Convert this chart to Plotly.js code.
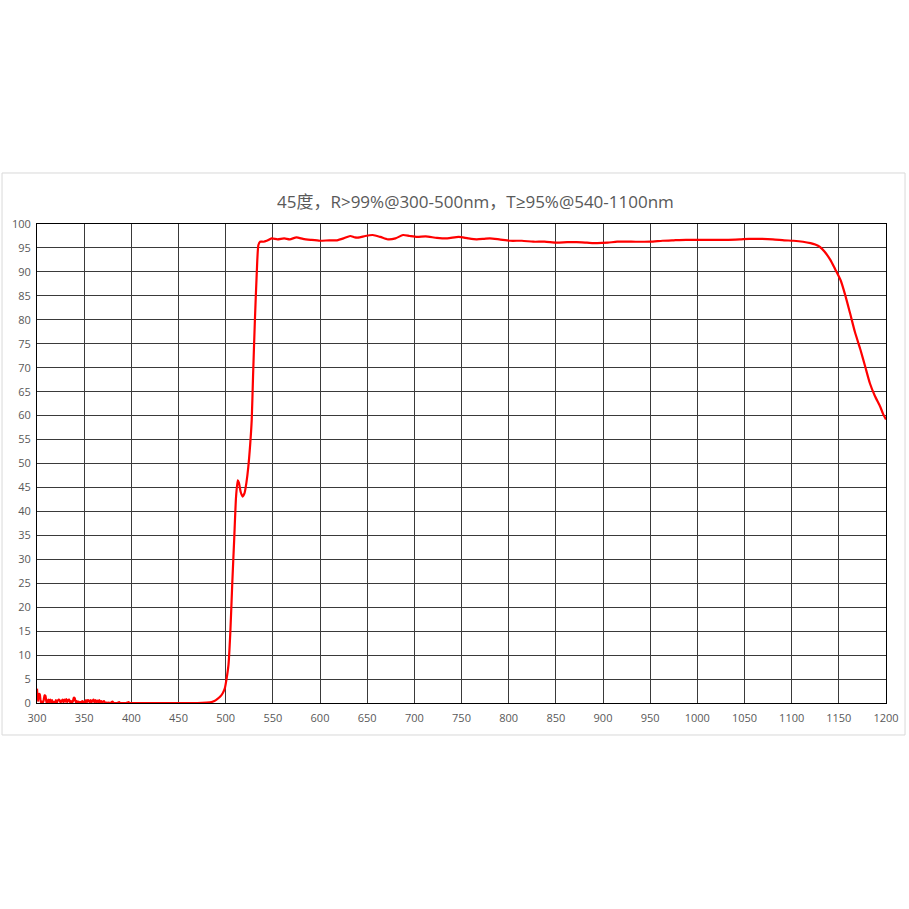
<!DOCTYPE html>
<html>
<head>
<meta charset="utf-8">
<script src="https://cdn.plot.ly/plotly-3.0.1.min.js"></script>
<style>
  html, body { margin: 0; padding: 0; background: #fff; }
  #chart { width: 909px; height: 909px; }
</style>
</head>
<body>
<div id="chart"></div>
<script>
// wavelength (nm) and transmission (%)
var noiseWl = [300,301,302,303,304,305,306,307,308,309,310,311,312,313,314,315,316,317,318,319,
               320,321,322,323,324,325,326,327,328,329,330,331,332,333,334,335,336,337,338,339,
               340,341,342,343,344,345,346,347,348,349,350,351,352,353,354,355,356,357,358,359,
               360,361,362,363,364,365,366,367,368,369,370,371,372,373,374,375,376,377,378,379,
               380,381,382,383,384,385,386,387,388,389,390,392,394,396,397,398,400];
var noiseT  = [3.0,0.4,1.9,1.8,0.2,0.3,0.1,0.5,1.6,1.5,0.2,0.1,0.7,0.2,0.7,0.1,0.6,0.1,0.2,0.1,
               0.6,0.1,0.5,0.7,0.6,0.1,0.4,0.7,0.2,0.7,0.3,0.8,0.2,0.6,0.7,0.2,0.4,0.1,0.3,1.1,
               1.0,0.2,0.4,0.1,0.3,0.1,0.2,0.1,0.4,0.1,0.3,0.1,0.6,0.2,0.6,0.5,0.1,0.6,0.2,0.5,
               0.7,0.1,0.6,0.2,0.5,0.1,0.6,0.1,0.4,0.1,0.3,0.4,0.1,0.0,0.1,0.0,0.1,0.0,0.0,0.2,
               0.3,0.1,0.0,0.0,0.0,0.0,0.1,0.2,0.0,0.0,0.0,0.0,0.0,0.1,0.2,0.0,0.0];

var edgeWl = [420,450,470,480,485,488,491,494,497,499,501,503,505,507,509,511,512.8,514,516,518,
              520,522,524,526,527.6,529,531,533,534.7,536.5,540,543.5,548.8,555,562,568,575,582,
              590,600,610,618,625,632,637,642,648,656,664,672,680,688,695,703,712,724,735,747,
              757,766,774,780,790,802,814,826,838,851,862,872,883,894,905,915,930,950,963,975,
              988,1000,1015,1030,1045,1055,1067,1080,1092,1102,1112,1120,1125,1130,1135,1141,1146,1152,1157,1162,
              1167,1173,1178,1183,1188,1194,1197,1200];
var edgeT  = [0.0,0.0,0.0,0.1,0.2,0.4,0.8,1.3,2.1,3.0,5.1,8.0,15,25,34,43,46.5,46,44,43.1,
              43.8,46,49.3,54,59,68,80,90,95.6,96.3,96.3,96.5,97.0,96.8,97.0,96.8,97.2,96.9,
              96.7,96.5,96.6,96.6,97.0,97.5,97.2,97.2,97.5,97.7,97.3,96.8,97.0,97.7,97.5,97.3,97.4,97.1,97.0,97.3,
              97.0,96.8,96.9,97.0,96.8,96.5,96.5,96.3,96.3,96.1,96.2,96.2,96.1,96.0,96.1,96.3,96.3,96.3,96.5,96.6,
              96.7,96.7,96.7,96.7,96.8,96.9,96.9,96.8,96.6,96.5,96.3,96.0,95.7,95.2,94.2,92.5,90.6,88.2,85.0,81.3,
              77.5,73.7,70.2,66.7,64.2,61.8,60.3,59.2];

var wl = noiseWl.concat(edgeWl);
var tr = noiseT.concat(edgeT);

var titleText = '45度，R>99%@300-500nm，T≥95%@540-1100nm';
var xTicks = [300,350,400,450,500,550,600,650,700,750,800,850,900,950,1000,1050,1100,1150,1200];

var trace = {
  x: wl,
  y: tr,
  type: 'scatter',
  mode: 'lines',
  line: {color: '#ff0000', width: 2.2, shape: 'spline', smoothing: 0.6},
  hoverinfo: 'skip'
};

var layout = {
  width: 909,
  height: 909,
  margin: {l: 37, r: 23, t: 224, b: 206},
  paper_bgcolor: '#ffffff',
  plot_bgcolor: '#ffffff',
  showlegend: false,
  font: {family: 'Open Sans, sans-serif', color: '#595959', size: 11},
  xaxis: {
    range: [300, 1200],
    tickvals: xTicks,
    ticks: '',
    showgrid: true,
    gridcolor: '#3a3a3a',
    gridwidth: 1,
    zeroline: false,
    showline: true,
    linecolor: '#000000',
    linewidth: 1,
    mirror: true,
    ticklabelstandoff: 5,
    tickfont: {size: 11, color: '#595959'},
    fixedrange: true
  },
  yaxis: {
    range: [0, 100],
    dtick: 5,
    ticks: '',
    showgrid: true,
    gridcolor: '#3a3a3a',
    gridwidth: 1,
    zeroline: false,
    showline: true,
    linecolor: '#000000',
    linewidth: 1,
    mirror: true,
    ticklabelstandoff: 3,
    tickfont: {size: 11, color: '#595959'},
    fixedrange: true
  },
  annotations: [{
    text: titleText,
    xref: 'paper', yref: 'paper',
    x: 0.516, xanchor: 'center',
    y: 1.046, yanchor: 'middle',
    showarrow: false,
    font: {family: 'Open Sans, Noto Sans CJK SC, sans-serif', size: 17, color: '#595959'}
  }],
  shapes: [{
    type: 'rect',
    xref: 'paper', yref: 'paper',
    x0: -0.0412, x1: 1.0224,
    y0: -0.0668, y1: 1.1065,
    line: {color: '#d9d9d9', width: 1},
    fillcolor: 'rgba(0,0,0,0)',
    layer: 'below'
  }]
};

Plotly.newPlot('chart', [trace], layout, {displayModeBar: false, staticPlot: true});
</script>
</body>
</html>
